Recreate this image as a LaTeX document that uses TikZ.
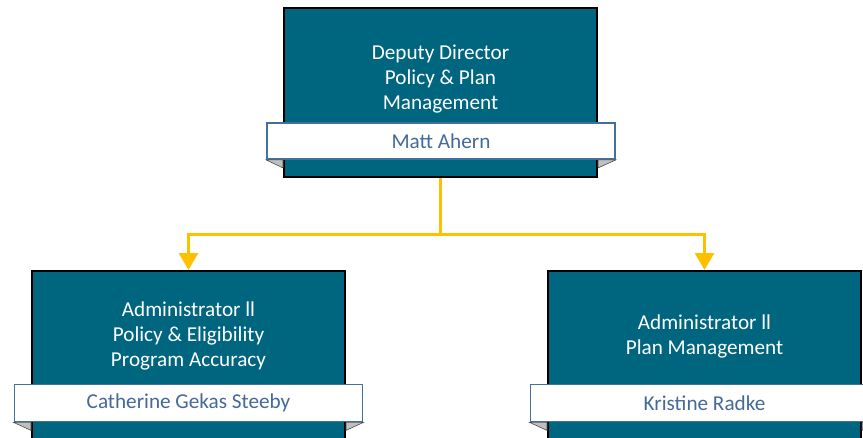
\documentclass[tikz,border=0pt]{standalone}
\usepackage{fontspec}
\setmainfont{Carlito}
\usetikzlibrary{arrows.meta}
\definecolor{teal}{HTML}{006680}
\definecolor{ribbonline}{HTML}{41719C}
\definecolor{nametext}{HTML}{44699B}
\definecolor{gold}{HTML}{FFC000}
\definecolor{foldgray}{HTML}{BFBFBF}
\tikzset{
  x=1pt, y=-1pt,
  box/.style={draw=black, line width=2pt, fill=teal, minimum width=313pt, minimum height=169pt, inner sep=0pt},
  title/.style={text=white, align=center, font=\fontsize{21.2}{25}\selectfont, inner sep=0pt},
  ribbon/.style={draw=ribbonline, line width=1.8pt, fill=white, minimum width=348pt, minimum height=37pt, inner sep=0pt, text=nametext, font=\fontsize{21.2}{25}\selectfont},
  fold/.style={fill=foldgray, draw=black!70, line width=0.6pt},
  conn/.style={draw=gold, line width=3pt, -{Triangle[width=19pt,length=17pt]}},
}
\begin{document}
\begin{tikzpicture}
\useasboundingbox (0,0) rectangle (863,437);
\clip (0,0) rectangle (863,437);
% top
\node[box] (dd) at (440.5,92.5) {};
\node[title] (ddt) at (440.5,79) {Deputy Director\\Policy \& Plan\\Management};
\node[ribbon, minimum height=36pt] (ddn) at (441,141) {Matt Ahern};
\filldraw[fold] (ddn.south west) -- (ddn.south west -| dd.west) -- ++(0,8) -- cycle;
\filldraw[fold] (ddn.south east) -- (ddn.south east -| dd.east) -- ++(0,8) -- cycle;
% left
\node[box] (pe) at (188.5,355.5) {};
\node[title] (pet) at (188.5,336) {Administrator ll\\Policy \& Eligibility\\Program Accuracy};
\node[ribbon] (pen) at (188.5,403) {Catherine Gekas Steeby};
\filldraw[fold] (pen.south west) -- (pen.south west -| pe.west) -- ++(0,8) -- cycle;
\filldraw[fold] (pen.south east) -- (pen.south east -| pe.east) -- ++(0,8) -- cycle;
% right
\node[box] (pm) at (704.5,355.5) {};
\node[title] (pmt) at (704.5,336) {Administrator ll\\Plan Management};
\node[ribbon] (pmn) at (704.5,403) {Kristine Radke};
\filldraw[fold] (pmn.south west) -- (pmn.south west -| pm.west) -- ++(0,8) -- cycle;
\filldraw[fold] (pmn.south east) -- (pmn.south east -| pm.east) -- ++(0,8) -- cycle;
% connectors
\coordinate (bus) at (440.5,234);
\draw[conn] (dd.south) -- (bus) -| (pe.north);
\draw[conn] (bus) -| (pm.north);
\end{tikzpicture}
\end{document}
